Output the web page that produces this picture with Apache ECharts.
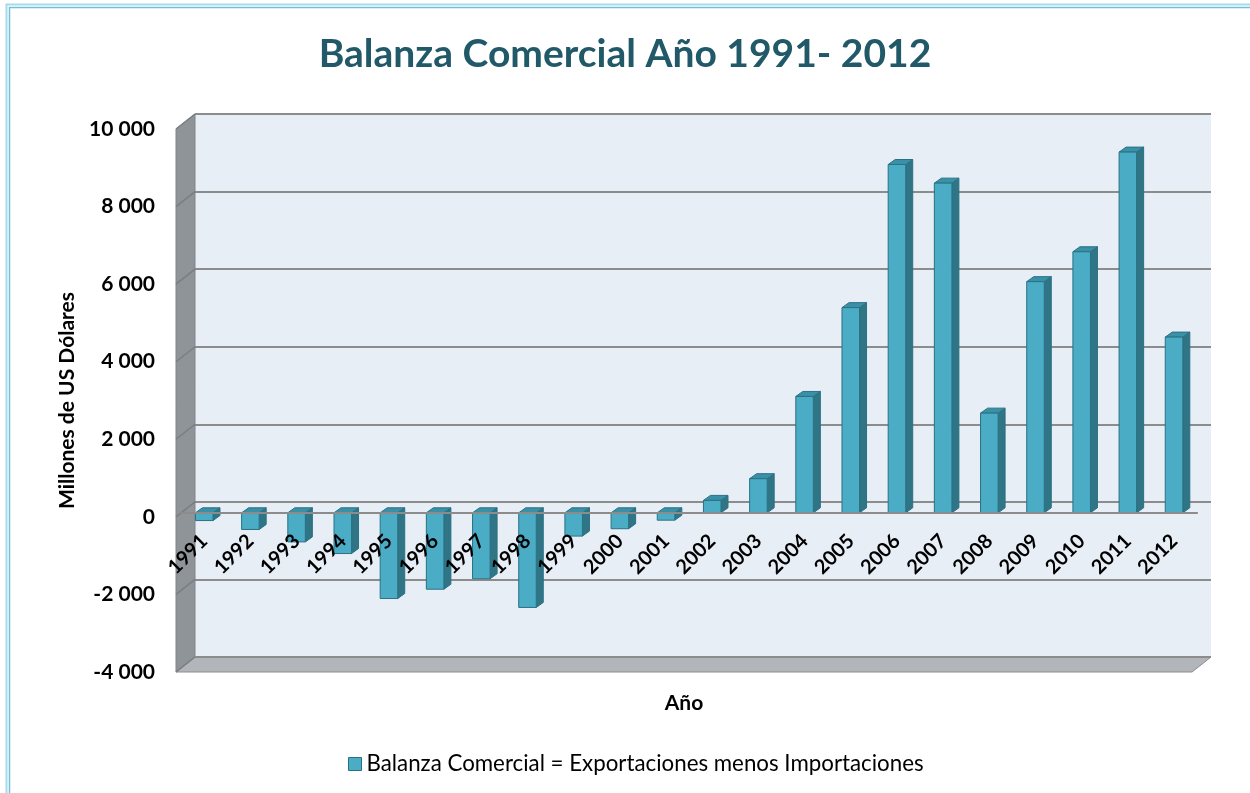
<!DOCTYPE html>
<html>
<head>
<meta charset="utf-8">
<title>Balanza Comercial</title>
<script src="https://cdn.jsdelivr.net/npm/echarts@6/dist/echarts.min.js"></script>
<style>
  html, body { margin: 0; padding: 0; background: #fff; }
  #chart { width: 1250px; height: 793px; }
</style>
</head>
<body>
<div id="chart"></div>
<script>
// datos
var years = ['1991','1992','1993','1994','1995','1996','1997','1998','1999','2000','2001',
             '2002','2003','2004','2005','2006','2007','2008','2009','2010','2011','2012'];
var balanza = [-200, -430, -750, -1050, -2210, -1970, -1700, -2440, -600, -410, -190,
               320, 880, 3000, 5290, 8980, 8500, 2570, 5960, 6730, 9300, 4530];
var yTicks = [-4000, -2000, 0, 2000, 4000, 6000, 8000, 10000];
var serieName = 'Balanza Comercial = Exportaciones menos Importaciones';

// colores
var FRONT = '#4BACC6';
var SIDE = '#2F7586';
var TOP = '#3A90A7';
var EDGE = '#2A7184';
var FONT = 'Lato, "Open Sans", sans-serif';

// plano frontal y profundidad del efecto 3D
var box = { left: 176, top: 129, width: 1016, height: 543 };
var depth = { dx: 19, dy: -15 };
var barDepth = 0.27; // fraccion de profundidad donde van las barras

function fmt(v) {
    var s = Math.abs(v).toString().replace(/\B(?=(\d{3})+(?!\d))/g, ' ');
    return (v < 0 ? '-' : '') + s;
}

var yMin = yTicks[0], yMax = yTicks[yTicks.length - 1], yStep = yTicks[1] - yTicks[0];
// desplazamiento del eje de categorias hasta el cero
var zeroOffset = -box.height * (0 - yMin) / (yMax - yMin);

function renderBar(params, api) {
    var i = api.value(0);
    var base = api.coord([i, 0]);
    var tip = api.coord([i, api.value(1)]);
    var w = api.size([1, 0])[0] * 0.38;
    var x0 = base[0] - w / 2, x1 = base[0] + w / 2;
    var yHi = Math.min(base[1], tip[1]), yLo = Math.max(base[1], tip[1]);
    var dx = 7, dy = 5;
    return {
        type: 'group',
        children: [
            { type: 'polygon', shape: { points: [[x1, yHi], [x1 + dx, yHi - dy], [x1 + dx, yLo - dy], [x1, yLo]] },
              style: { fill: SIDE, stroke: EDGE, lineWidth: 1 } },
            { type: 'polygon', shape: { points: [[x0, yHi], [x0 + dx, yHi - dy], [x1 + dx, yHi - dy], [x1, yHi]] },
              style: { fill: TOP, stroke: EDGE, lineWidth: 1 } },
            { type: 'rect', shape: { x: x0, y: yHi, width: w, height: yLo - yHi },
              style: { fill: FRONT, stroke: EDGE, lineWidth: 1 } }
        ]
    };
}

var myChart = echarts.init(document.getElementById('chart'));

var option = {
    backgroundColor: '#ffffff',
    animation: false,
    title: {
        text: 'Balanza Comercial Año 1991- 2012',
        left: 'center',
        top: 30,
        textStyle: { fontFamily: FONT, fontSize: 39, fontWeight: 'bold', color: '#215968' }
    },
    legend: {
        data: [serieName],
        left: 343,
        top: 748,
        icon: 'rect',
        itemWidth: 13,
        itemHeight: 13,
        itemGap: 6,
        itemStyle: { color: FRONT, borderColor: EDGE, borderWidth: 1 },
        textStyle: { fontFamily: FONT, fontSize: 22.3, color: '#000' }
    },
    grid: [
        // pared del fondo
        { left: box.left + depth.dx, top: box.top + depth.dy, width: box.width, height: box.height,
          show: true, backgroundColor: '#E8EEF6', borderWidth: 0 },
        // plano de las barras
        { left: box.left + depth.dx * barDepth, top: box.top + depth.dy * barDepth, width: box.width, height: box.height },
        // plano frontal (etiquetas)
        { left: box.left, top: box.top, width: box.width, height: box.height }
    ],
    xAxis: [
        { type: 'category', gridIndex: 0, data: years, show: false },
        { type: 'category', gridIndex: 1, data: years, position: 'bottom', offset: zeroOffset, z: 10,
          axisLine: { show: true, onZero: false, lineStyle: { color: '#8C8C8C', width: 2 } },
          axisTick: { show: false },
          axisLabel: { interval: 0, rotate: 45, margin: 25, fontFamily: FONT, fontSize: 20, fontWeight: 'bold', color: '#000' } },
        { type: 'category', gridIndex: 2, data: years, position: 'bottom',
          axisLine: { show: false, onZero: false }, axisTick: { show: false }, axisLabel: { show: false },
          name: 'Año', nameLocation: 'middle', nameGap: 21,
          nameTextStyle: { fontFamily: FONT, fontSize: 21, fontWeight: 'bold', color: '#000' } }
    ],
    yAxis: [
        { type: 'value', gridIndex: 0, min: yMin, max: yMax, interval: yStep,
          axisLine: { show: false }, axisTick: { show: false }, axisLabel: { show: false },
          splitLine: { show: true, lineStyle: { color: '#8C8C8C', width: 2 } } },
        { type: 'value', gridIndex: 1, min: yMin, max: yMax, interval: yStep,
          axisLine: { show: false }, axisTick: { show: false }, axisLabel: { show: false }, splitLine: { show: false } },
        { type: 'value', gridIndex: 2, min: yMin, max: yMax, interval: yStep,
          axisLine: { show: false }, axisTick: { show: false }, splitLine: { show: false },
          axisLabel: { margin: 21, formatter: fmt, fontFamily: FONT, fontSize: 21, fontWeight: 'bold', color: '#000' },
          name: 'Millones de US Dólares', nameLocation: 'middle', nameRotate: 90, nameGap: 96,
          nameTextStyle: { fontFamily: FONT, fontSize: 21, fontWeight: 'bold', color: '#000' } }
    ],
    series: [
        {
            name: serieName,
            type: 'custom',
            xAxisIndex: 1,
            yAxisIndex: 1,
            renderItem: renderBar,
            itemStyle: { color: FRONT, borderColor: EDGE },
            encode: { x: 0, y: 1 },
            data: balanza.map(function (v, i) { return [i, v]; }),
            z: 5
        }
    ]
};
myChart.setOption(option);

// paredes laterales, piso y borde del grafico
function decorar() {
    var g = [];
    var xF = box.left, xB = box.left + depth.dx;
    var xFr = box.left + box.width, xBr = xFr + depth.dx;
    var yFb = box.top + box.height, yBb = yFb + depth.dy;
    // pared izquierda
    g.push({ type: 'polygon', z: 1, shape: { points: [[xF, box.top], [xB, box.top + depth.dy], [xB, yBb], [xF, yFb]] },
             style: { fill: '#8F9499', stroke: '#808488', lineWidth: 1 } });
    yTicks.forEach(function (t) {
        var yf = myChart.convertToPixel({ gridIndex: 2 }, [0, t])[1];
        var yb = myChart.convertToPixel({ gridIndex: 0 }, [0, t])[1];
        g.push({ type: 'line', z: 2, shape: { x1: xF, y1: yf, x2: xB, y2: yb }, style: { stroke: '#7A7E82', lineWidth: 1.5 } });
    });
    // piso
    g.push({ type: 'polygon', z: 1, shape: { points: [[xF, yFb], [xFr, yFb], [xBr, yBb], [xB, yBb]] },
             style: { fill: '#B2B6BA', stroke: '#8C8C8C', lineWidth: 1 } });
    g.push({ type: 'line', z: 2, shape: { x1: xB, y1: yBb, x2: xBr, y2: yBb }, style: { stroke: '#8C8C8C', lineWidth: 2 } });
    // borde exterior
    g.push({ type: 'rect', z: 0, shape: { x: 6.5, y: 4.5, width: 1260, height: 820 }, style: { fill: 'none', stroke: '#A8DAE8', lineWidth: 2 } });
    g.push({ type: 'rect', z: 0, shape: { x: 9.5, y: 7.5, width: 1260, height: 820 }, style: { fill: 'none', stroke: '#6EC3DA', lineWidth: 1.5 } });
    myChart.setOption({ graphic: { elements: g } });
}
decorar();

window.addEventListener('resize', function () {
    myChart.resize();
    decorar();
});
</script>
</body>
</html>
